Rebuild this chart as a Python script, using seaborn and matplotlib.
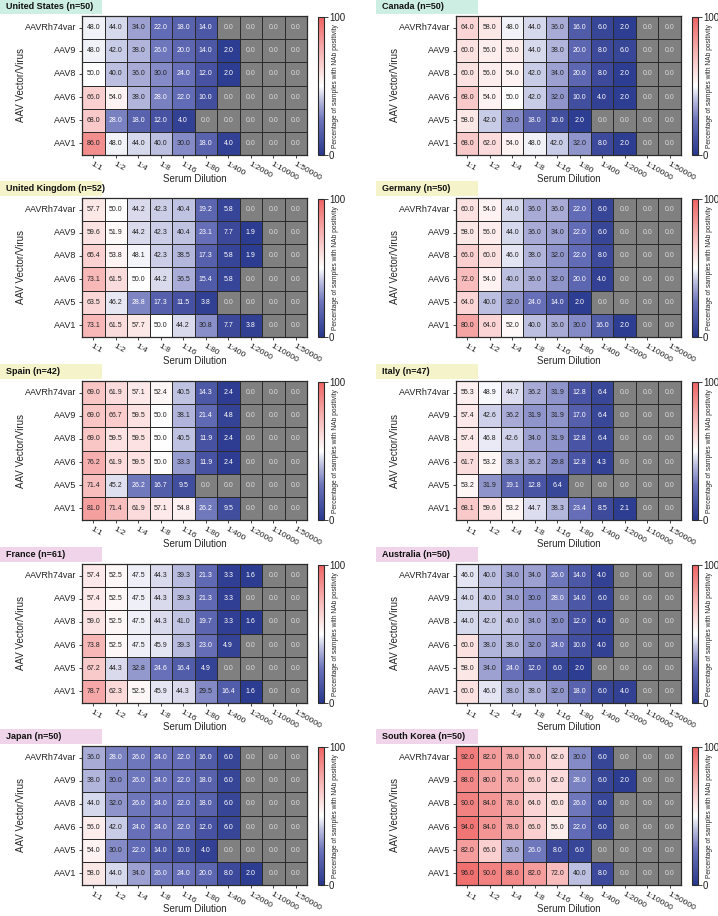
import numpy as np
import pandas as pd
import matplotlib
matplotlib.use('Agg')
import matplotlib.pyplot as plt
import seaborn as sns
from matplotlib.colors import LinearSegmentedColormap, ListedColormap
from matplotlib.patches import Rectangle

sns.set_theme(style="white")
plt.rcParams['font.family'] = ['Liberation Sans', 'DejaVu Sans']

vectors = ['AAVRh74var', 'AAV9', 'AAV8', 'AAV6', 'AAV5', 'AAV1']
dilutions = ['1:1', '1:2', '1:4', '1:8', '1:16', '1:80', '1:400', '1:2000', '1:10000', '1:50000']

# % of samples with NAb positivity, rows follow `vectors`
us = [[48.0, 44.0, 34.0, 22.0, 18.0, 14.0, 0.0, 0.0, 0.0, 0.0],
      [48.0, 42.0, 38.0, 26.0, 20.0, 14.0, 2.0, 0.0, 0.0, 0.0],
      [50.0, 40.0, 36.0, 30.0, 24.0, 12.0, 2.0, 0.0, 0.0, 0.0],
      [66.0, 54.0, 38.0, 28.0, 22.0, 10.0, 0.0, 0.0, 0.0, 0.0],
      [68.0, 28.0, 18.0, 12.0, 4.0, 0.0, 0.0, 0.0, 0.0, 0.0],
      [86.0, 48.0, 44.0, 40.0, 30.0, 18.0, 4.0, 0.0, 0.0, 0.0]]

canada = [[64.0, 58.0, 48.0, 44.0, 36.0, 16.0, 6.0, 2.0, 0.0, 0.0],
          [60.0, 56.0, 56.0, 44.0, 38.0, 20.0, 8.0, 6.0, 0.0, 0.0],
          [60.0, 56.0, 54.0, 42.0, 34.0, 20.0, 8.0, 2.0, 0.0, 0.0],
          [68.0, 54.0, 50.0, 42.0, 32.0, 10.0, 4.0, 2.0, 0.0, 0.0],
          [58.0, 42.0, 30.0, 18.0, 10.0, 2.0, 0.0, 0.0, 0.0, 0.0],
          [68.0, 62.0, 54.0, 48.0, 42.0, 32.0, 8.0, 2.0, 0.0, 0.0]]

uk = [[57.7, 50.0, 44.2, 42.3, 40.4, 19.2, 5.8, 0.0, 0.0, 0.0],
      [59.6, 51.9, 44.2, 42.3, 40.4, 23.1, 7.7, 1.9, 0.0, 0.0],
      [65.4, 53.8, 48.1, 42.3, 38.5, 17.3, 5.8, 1.9, 0.0, 0.0],
      [73.1, 61.5, 50.0, 44.2, 36.5, 15.4, 5.8, 0.0, 0.0, 0.0],
      [63.5, 46.2, 28.8, 17.3, 11.5, 3.8, 0.0, 0.0, 0.0, 0.0],
      [73.1, 61.5, 57.7, 50.0, 44.2, 30.8, 7.7, 3.8, 0.0, 0.0]]

germany = [[60.0, 54.0, 44.0, 36.0, 36.0, 22.0, 6.0, 0.0, 0.0, 0.0],
           [58.0, 56.0, 44.0, 36.0, 34.0, 22.0, 6.0, 0.0, 0.0, 0.0],
           [66.0, 60.0, 46.0, 38.0, 32.0, 22.0, 8.0, 0.0, 0.0, 0.0],
           [72.0, 54.0, 40.0, 36.0, 32.0, 20.0, 4.0, 0.0, 0.0, 0.0],
           [64.0, 40.0, 32.0, 24.0, 14.0, 2.0, 0.0, 0.0, 0.0, 0.0],
           [80.0, 64.0, 52.0, 40.0, 36.0, 30.0, 16.0, 2.0, 0.0, 0.0]]

spain = [[69.0, 61.9, 57.1, 52.4, 40.5, 14.3, 2.4, 0.0, 0.0, 0.0],
         [69.0, 66.7, 59.5, 50.0, 38.1, 21.4, 4.8, 0.0, 0.0, 0.0],
         [69.0, 59.5, 59.5, 50.0, 40.5, 11.9, 2.4, 0.0, 0.0, 0.0],
         [76.2, 61.9, 59.5, 50.0, 33.3, 11.9, 2.4, 0.0, 0.0, 0.0],
         [71.4, 45.2, 26.2, 16.7, 9.5, 0.0, 0.0, 0.0, 0.0, 0.0],
         [81.0, 71.4, 61.9, 57.1, 54.8, 26.2, 9.5, 0.0, 0.0, 0.0]]

italy = [[55.3, 48.9, 44.7, 36.2, 31.9, 12.8, 6.4, 0.0, 0.0, 0.0],
         [57.4, 42.6, 36.2, 31.9, 31.9, 17.0, 6.4, 0.0, 0.0, 0.0],
         [57.4, 46.8, 42.6, 34.0, 31.9, 12.8, 6.4, 0.0, 0.0, 0.0],
         [61.7, 53.2, 38.3, 36.2, 29.8, 12.8, 4.3, 0.0, 0.0, 0.0],
         [53.2, 31.9, 19.1, 12.8, 6.4, 0.0, 0.0, 0.0, 0.0, 0.0],
         [68.1, 59.6, 53.2, 44.7, 38.3, 23.4, 8.5, 2.1, 0.0, 0.0]]

france = [[57.4, 52.5, 47.5, 44.3, 39.3, 21.3, 3.3, 1.6, 0.0, 0.0],
          [57.4, 52.5, 47.5, 44.3, 39.3, 21.3, 3.3, 0.0, 0.0, 0.0],
          [59.0, 52.5, 47.5, 44.3, 41.0, 19.7, 3.3, 1.6, 0.0, 0.0],
          [73.8, 52.5, 47.5, 45.9, 39.3, 23.0, 4.9, 0.0, 0.0, 0.0],
          [67.2, 44.3, 32.8, 24.6, 16.4, 4.9, 0.0, 0.0, 0.0, 0.0],
          [78.7, 62.3, 52.5, 45.9, 44.3, 29.5, 16.4, 1.6, 0.0, 0.0]]

australia = [[46.0, 40.0, 34.0, 34.0, 26.0, 14.0, 4.0, 0.0, 0.0, 0.0],
             [44.0, 40.0, 34.0, 30.0, 28.0, 14.0, 6.0, 0.0, 0.0, 0.0],
             [44.0, 42.0, 40.0, 34.0, 30.0, 12.0, 4.0, 0.0, 0.0, 0.0],
             [60.0, 38.0, 38.0, 32.0, 24.0, 10.0, 4.0, 0.0, 0.0, 0.0],
             [58.0, 34.0, 24.0, 12.0, 6.0, 2.0, 0.0, 0.0, 0.0, 0.0],
             [60.0, 46.0, 38.0, 38.0, 32.0, 18.0, 6.0, 4.0, 0.0, 0.0]]

japan = [[36.0, 28.0, 26.0, 24.0, 22.0, 16.0, 6.0, 0.0, 0.0, 0.0],
         [38.0, 30.0, 26.0, 24.0, 22.0, 18.0, 6.0, 0.0, 0.0, 0.0],
         [44.0, 32.0, 26.0, 24.0, 22.0, 18.0, 6.0, 0.0, 0.0, 0.0],
         [56.0, 42.0, 24.0, 24.0, 22.0, 12.0, 6.0, 0.0, 0.0, 0.0],
         [54.0, 30.0, 22.0, 14.0, 10.0, 4.0, 0.0, 0.0, 0.0, 0.0],
         [58.0, 44.0, 34.0, 26.0, 24.0, 20.0, 8.0, 2.0, 0.0, 0.0]]

south_korea = [[92.0, 82.0, 78.0, 70.0, 62.0, 30.0, 6.0, 0.0, 0.0, 0.0],
               [88.0, 80.0, 76.0, 66.0, 62.0, 28.0, 6.0, 2.0, 0.0, 0.0],
               [90.0, 84.0, 78.0, 64.0, 60.0, 26.0, 6.0, 0.0, 0.0, 0.0],
               [94.0, 84.0, 78.0, 66.0, 56.0, 22.0, 6.0, 0.0, 0.0, 0.0],
               [82.0, 66.0, 36.0, 26.0, 8.0, 6.0, 0.0, 0.0, 0.0, 0.0],
               [96.0, 90.0, 88.0, 82.0, 72.0, 40.0, 8.0, 0.0, 0.0, 0.0]]

# grid order: rows top to bottom, (left, right)
panels = [[('United States (n=50)', us), ('Canada (n=50)', canada)],
          [('United Kingdom (n=52)', uk), ('Germany (n=50)', germany)],
          [('Spain (n=42)', spain), ('Italy (n=47)', italy)],
          [('France (n=61)', france), ('Australia (n=50)', australia)],
          [('Japan (n=50)', japan), ('South Korea (n=50)', south_korea)]]
box_colors = ['#cdeee2', '#f5f3c9', '#f5f3c9', '#f0d5ea', '#f0d5ea']

cmap = LinearSegmentedColormap.from_list('nab', [
    (0.0, '#28388d'), (0.25, '#6a72ba'), (0.4, '#bcbfe0'),
    (0.5, '#ffffff'), (0.75, '#f7b3b3'), (1.0, '#ef6262')])
gray = ListedColormap(['#808080'])

W, H = 718, 916
def box(x, y, w, h):
    return [x / W, 1 - (y + h) / H, w / W, h / H]

fig = plt.figure(figsize=(W / 100, H / 100), dpi=100)

hm_left = [82, 456]
cb_left = [318, 692]
tb_left = [0, 376]
tops = [16, 198, 381, 564, 746]
hm_h = 139
line_c = '#2b2b2b'

for r, row in enumerate(panels):
    for c, (title, vals) in enumerate(row):
        df = pd.DataFrame(vals, index=vectors, columns=dilutions)
        ax = fig.add_axes(box(hm_left[c], tops[r], 225, hm_h))
        cax = fig.add_axes(box(cb_left[c], tops[r] + 1, 6, 138))

        sns.heatmap(df, mask=(df == 0), cmap=cmap, vmin=0, vmax=100,
                    annot=True, fmt='.1f', annot_kws={'size': 5},
                    linewidths=0.7, linecolor=line_c, ax=ax, cbar_ax=cax,
                    cbar_kws={'ticks': [0, 100]})
        sns.heatmap(df, mask=(df != 0), cmap=gray, cbar=False,
                    annot=True, fmt='.1f',
                    annot_kws={'size': 5, 'color': '#dcdcdc'},
                    linewidths=0.7, linecolor=line_c, ax=ax)

        for t in ax.texts:
            v = float(t.get_text())
            if v > 0:
                t.set_color('white' if v < 29 else '#222222')

        for s in ax.spines.values():
            s.set_visible(True)
            s.set_linewidth(0.9)
            s.set_color(line_c)

        ax.set_yticklabels(vectors, rotation=0, fontsize=6.5)
        ax.set_xticklabels(dilutions, rotation=-30, ha='left',
                           rotation_mode='anchor', fontsize=6)
        ax.tick_params(axis='both', length=2.5, width=0.6, pad=1.5,
                       bottom=True, left=True, colors='#222222')
        ax.set_ylabel('AAV Vector/Virus', fontsize=7, labelpad=-1)
        ax.set_xlabel('Serum Dilution', fontsize=7)
        ax.xaxis.set_label_coords(0.5, -19 / hm_h)

        cb = ax.collections[0].colorbar
        cb.outline.set_linewidth(0.8)
        cb.outline.set_edgecolor(line_c)
        cax.tick_params(labelsize=7, length=3, width=0.6, pad=0.5,
                        right=True, colors='#222222')
        cax.set_ylabel('Percentage of samples with NAb positivity',
                       fontsize=4.8)
        cax.yaxis.set_label_coords(2.4, 0.5)

        bx = box(tb_left[c], tops[r] - 17, 102, 15)
        fig.add_artist(Rectangle((bx[0], bx[1]), bx[2], bx[3],
                                 transform=fig.transFigure,
                                 facecolor=box_colors[r], edgecolor='none'))
        fig.text(bx[0] + 6 / W, bx[1] + bx[3] / 2, title, fontsize=6.5,
                 fontweight='bold', ha='left', va='center', color='#111111')

fig.savefig('out.png', dpi=100)
